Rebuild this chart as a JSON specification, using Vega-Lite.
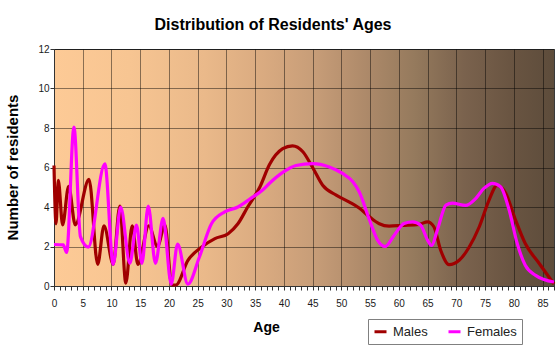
{
  "$schema": "https://vega.github.io/schema/vega-lite/v6.json",
  "width": 500,
  "height": 237,
  "autosize": {"type": "none"},
  "padding": {"left": 54, "top": 49, "right": 6, "bottom": 67},
  "background": "#ffffff",
  "config": {
    "font": "Liberation Sans",
    "view": {"stroke": "#3a3a3a", "strokeWidth": 1}
  },
  "view": {
    "fill": {
      "gradient": "linear",
      "x1": 0, "y1": 0, "x2": 1, "y2": 0,
      "stops": [
        {"offset": 0, "color": "#fdca96"},
        {"offset": 0.15, "color": "#f7c592"},
        {"offset": 0.3, "color": "#eab98a"},
        {"offset": 0.42, "color": "#d9aa80"},
        {"offset": 0.52, "color": "#c79d78"},
        {"offset": 0.62, "color": "#ae8a6a"},
        {"offset": 0.72, "color": "#957a5d"},
        {"offset": 0.82, "color": "#7a624d"},
        {"offset": 0.91, "color": "#6a5542"},
        {"offset": 1, "color": "#5d4c3b"}
      ]
    }
  },
  "title": {
    "text": "Distribution of Residents' Ages",
    "fontSize": 16,
    "fontWeight": "bold",
    "color": "#000000",
    "anchor": "middle",
    "dx": -31,
    "baseline": "alphabetic",
    "offset": -2
  },
  "data": {
    "values": [
      {"age": 0, "count": 6.1, "sex": "Males"},
      {"age": 0.35, "count": 3.15, "sex": "Males"},
      {"age": 0.75, "count": 5.35, "sex": "Males"},
      {"age": 1.5, "count": 3.1, "sex": "Males"},
      {"age": 2.55, "count": 5.05, "sex": "Males"},
      {"age": 3.7, "count": 3.1, "sex": "Males"},
      {"age": 6.1, "count": 5.4, "sex": "Males"},
      {"age": 7.6, "count": 1.1, "sex": "Males"},
      {"age": 8.7, "count": 3.05, "sex": "Males"},
      {"age": 10.3, "count": 1.1, "sex": "Males"},
      {"age": 11.45, "count": 4.05, "sex": "Males"},
      {"age": 12.5, "count": 0.15, "sex": "Males"},
      {"age": 13.6, "count": 3.05, "sex": "Males"},
      {"age": 14.6, "count": 1.1, "sex": "Males"},
      {"age": 16.5, "count": 3.05, "sex": "Males"},
      {"age": 18.0, "count": 2.0, "sex": "Males"},
      {"age": 19.3, "count": 3.1, "sex": "Males"},
      {"age": 20.5, "count": 0.05, "sex": "Males"},
      {"age": 21.2, "count": 0.05, "sex": "Males"},
      {"age": 23.3, "count": 1.3, "sex": "Males"},
      {"age": 25.6, "count": 1.95, "sex": "Males"},
      {"age": 28, "count": 2.4, "sex": "Males"},
      {"age": 30.3, "count": 2.65, "sex": "Males"},
      {"age": 32, "count": 3.15, "sex": "Males"},
      {"age": 33.7, "count": 4.0, "sex": "Males"},
      {"age": 35.8, "count": 5.0, "sex": "Males"},
      {"age": 37.5, "count": 6.15, "sex": "Males"},
      {"age": 39.8, "count": 6.95, "sex": "Males"},
      {"age": 41.5, "count": 7.1, "sex": "Males"},
      {"age": 43.3, "count": 6.8, "sex": "Males"},
      {"age": 45, "count": 6.0, "sex": "Males"},
      {"age": 46.75, "count": 5.1, "sex": "Males"},
      {"age": 49.1, "count": 4.6, "sex": "Males"},
      {"age": 51.4, "count": 4.25, "sex": "Males"},
      {"age": 53.1, "count": 3.95, "sex": "Males"},
      {"age": 54.9, "count": 3.5, "sex": "Males"},
      {"age": 56.6, "count": 3.15, "sex": "Males"},
      {"age": 58.3, "count": 3.03, "sex": "Males"},
      {"age": 60.6, "count": 3.07, "sex": "Males"},
      {"age": 63.5, "count": 3.12, "sex": "Males"},
      {"age": 65, "count": 3.25, "sex": "Males"},
      {"age": 66.1, "count": 3.0, "sex": "Males"},
      {"age": 67.3, "count": 1.8, "sex": "Males"},
      {"age": 68.75, "count": 1.08, "sex": "Males"},
      {"age": 70.5, "count": 1.3, "sex": "Males"},
      {"age": 72.2, "count": 1.95, "sex": "Males"},
      {"age": 74, "count": 3.0, "sex": "Males"},
      {"age": 75.7, "count": 4.35, "sex": "Males"},
      {"age": 77.1, "count": 5.1, "sex": "Males"},
      {"age": 78.6, "count": 4.7, "sex": "Males"},
      {"age": 80.3, "count": 3.35, "sex": "Males"},
      {"age": 82, "count": 2.15, "sex": "Males"},
      {"age": 84.4, "count": 1.15, "sex": "Males"},
      {"age": 87, "count": 0.1, "sex": "Males"},
      {"age": 0, "count": 2.1, "sex": "Females"},
      {"age": 1.6, "count": 2.08, "sex": "Females"},
      {"age": 2.2, "count": 1.7, "sex": "Females"},
      {"age": 3.47, "count": 8.05, "sex": "Females"},
      {"age": 4.6, "count": 2.5, "sex": "Females"},
      {"age": 5.96, "count": 1.97, "sex": "Females"},
      {"age": 8.85, "count": 6.18, "sex": "Females"},
      {"age": 10.3, "count": 1.1, "sex": "Females"},
      {"age": 11.6, "count": 4.0, "sex": "Females"},
      {"age": 13.2, "count": 1.15, "sex": "Females"},
      {"age": 14.35, "count": 3.08, "sex": "Females"},
      {"age": 15.3, "count": 1.15, "sex": "Females"},
      {"age": 16.4, "count": 4.05, "sex": "Females"},
      {"age": 17.65, "count": 1.15, "sex": "Females"},
      {"age": 18.98, "count": 3.42, "sex": "Females"},
      {"age": 20.4, "count": 0.1, "sex": "Females"},
      {"age": 21.5, "count": 2.12, "sex": "Females"},
      {"age": 23.3, "count": 0.1, "sex": "Females"},
      {"age": 25.3, "count": 1.47, "sex": "Females"},
      {"age": 27.4, "count": 3.15, "sex": "Females"},
      {"age": 29.7, "count": 3.75, "sex": "Females"},
      {"age": 32, "count": 4.0, "sex": "Females"},
      {"age": 34.3, "count": 4.45, "sex": "Females"},
      {"age": 36.3, "count": 4.86, "sex": "Females"},
      {"age": 37.5, "count": 5.2, "sex": "Females"},
      {"age": 39.8, "count": 5.75, "sex": "Females"},
      {"age": 42.1, "count": 6.1, "sex": "Females"},
      {"age": 45, "count": 6.2, "sex": "Females"},
      {"age": 47.9, "count": 6.03, "sex": "Females"},
      {"age": 50.2, "count": 5.7, "sex": "Females"},
      {"age": 52, "count": 5.28, "sex": "Females"},
      {"age": 53.1, "count": 4.77, "sex": "Females"},
      {"age": 54.9, "count": 3.34, "sex": "Females"},
      {"age": 56.3, "count": 2.32, "sex": "Females"},
      {"age": 57.6, "count": 2.0, "sex": "Females"},
      {"age": 59.2, "count": 2.57, "sex": "Females"},
      {"age": 60.9, "count": 3.17, "sex": "Females"},
      {"age": 62.4, "count": 3.25, "sex": "Females"},
      {"age": 63.8, "count": 3.08, "sex": "Females"},
      {"age": 65, "count": 2.32, "sex": "Females"},
      {"age": 65.7, "count": 2.05, "sex": "Females"},
      {"age": 66.7, "count": 2.83, "sex": "Females"},
      {"age": 68.2, "count": 4.1, "sex": "Females"},
      {"age": 69.3, "count": 4.2, "sex": "Females"},
      {"age": 71.6, "count": 4.08, "sex": "Females"},
      {"age": 73.4, "count": 4.44, "sex": "Females"},
      {"age": 74.8, "count": 4.94, "sex": "Females"},
      {"age": 76.3, "count": 5.2, "sex": "Females"},
      {"age": 77.7, "count": 5.03, "sex": "Females"},
      {"age": 79.2, "count": 3.84, "sex": "Females"},
      {"age": 80.6, "count": 2.15, "sex": "Females"},
      {"age": 82, "count": 1.05, "sex": "Females"},
      {"age": 83.8, "count": 0.54, "sex": "Females"},
      {"age": 87, "count": 0.2, "sex": "Females"}
    ]
  },
  "mark": {"type": "line", "interpolate": "monotone", "strokeWidth": 3.2},
  "encoding": {
    "x": {
      "field": "age",
      "type": "quantitative",
      "scale": {"domain": [0, 87], "nice": false, "zero": false},
      "axis": {
        "values": [0,1,2,3,4,5,6,7,8,9,10,11,12,13,14,15,16,17,18,19,20,21,22,23,24,25,26,27,28,29,30,31,32,33,34,35,36,37,38,39,40,41,42,43,44,45,46,47,48,49,50,51,52,53,54,55,56,57,58,59,60,61,62,63,64,65,66,67,68,69,70,71,72,73,74,75,76,77,78,79,80,81,82,83,84,85,86,87],
        "labelExpr": "datum.value % 5 === 0 ? datum.label : ''",
        "labelOverlap": false,
        "labelFlush": false,
        "labelFontSize": 10,
        "labelColor": "#1a1a1a",
        "labelPadding": 8,
        "tickSize": 4,
        "tickColor": "#333333",
        "domainColor": "#333333",
        "grid": true,
        "gridColor": "#000000",
        "gridOpacity": {"condition": {"test": "datum.value % 5 === 0", "value": 0.45}, "value": 0},
        "title": "Age",
        "titleFontSize": 14,
        "titleFontWeight": "bold",
        "titleColor": "#000000",
        "titleX": 212,
        "titleY": 45,
        "titleAlign": "center",
        "titleBaseline": "alphabetic"
      }
    },
    "y": {
      "field": "count",
      "type": "quantitative",
      "scale": {"domain": [0, 12], "nice": false},
      "axis": {
        "values": [0, 2, 4, 6, 8, 10, 12],
        "labelFontSize": 10,
        "labelColor": "#1a1a1a",
        "labelPadding": 1,
        "tickSize": 4,
        "tickColor": "#333333",
        "domainColor": "#333333",
        "grid": true,
        "gridColor": "#000000",
        "gridOpacity": 0.45,
        "title": "Number of residents",
        "titleFontSize": 15,
        "titleFontWeight": "bold",
        "titleColor": "#000000",
        "titleAngle": -90,
        "titleX": -37,
        "titleY": 118,
        "titleAlign": "center",
        "titleBaseline": "alphabetic"
      }
    },
    "color": {
      "field": "sex",
      "type": "nominal",
      "scale": {"domain": ["Males", "Females"], "range": ["#a00000", "#ff00ff"]},
      "legend": {
        "orient": "none",
        "legendX": 314,
        "legendY": 270,
        "direction": "horizontal",
        "title": null,
        "strokeColor": "#808080",
        "padding": 5,
        "symbolType": "stroke",
        "symbolSize": 144,
        "symbolStrokeWidth": 3,
        "labelFontSize": 13,
        "labelOffset": 5,
        "labelColor": "#222222",
        "columnPadding": 14
      }
    }
  }
}
